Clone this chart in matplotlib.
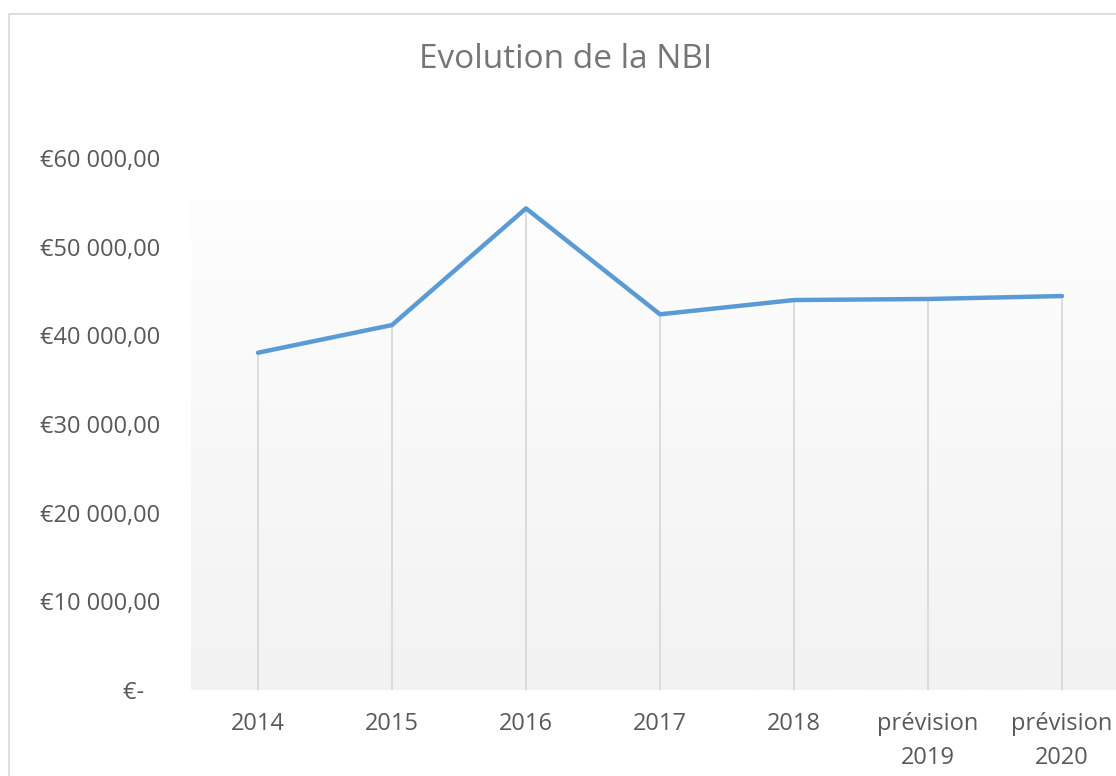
import matplotlib
matplotlib.use('Agg')
import matplotlib.pyplot as plt
import numpy as np
from matplotlib.patches import Rectangle

# data
categories = ['2014', '2015', '2016', '2017', '2018', 'prévision\n2019', 'prévision\n2020']
nbi_values = [38040, 41160, 54320, 42370, 43980, 44100, 44430]
y_ticks = [0, 10000, 20000, 30000, 40000, 50000, 60000]
y_tick_labels = ['€-  \u2009', '€10 000,00', '€20 000,00', '€30 000,00',
                 '€40 000,00', '€50 000,00', '€60 000,00']

plt.rcParams['font.family'] = ['Open Sans', 'DejaVu Sans']

fig = plt.figure(figsize=(11.16, 7.76), dpi=100)
fig.patch.set_facecolor('white')

# chart border (cropped on the right and bottom)
fig.patches.append(Rectangle((9 / 1116, -0.1), 1.2, 1 - 14 / 776 + 0.1,
                             transform=fig.transFigure, fill=False,
                             edgecolor='#d9d9d9', lw=1.2))

ax = fig.add_axes([191 / 1116, 86 / 776, 938 / 1116, 532 / 776])
x = np.arange(len(categories))
ax.set_xlim(-0.5, len(categories) - 0.5)
ax.set_ylim(0, 60000)

# plot area gradient, white at top to light gray at bottom
grad = np.linspace(242, 255, 256).reshape(-1, 1) / 255.0
ax.imshow(np.dstack([grad, grad, grad]), extent=(-0.5, len(categories) - 0.5, 0, 60000),
          origin='lower', aspect='auto', zorder=0)

# drop lines
ax.vlines(x, 0, nbi_values, colors='#d9d9d9', lw=1.3, zorder=1)
ax.plot(x, nbi_values, color='#5b9bd5', lw=3.2, solid_capstyle='round',
        solid_joinstyle='round', zorder=3)

for s in ax.spines.values():
    s.set_visible(False)

ax.set_xticks(x)
ax.set_xticklabels(categories, fontsize=17, color='#595959', linespacing=1.55)
ax.set_yticks(y_ticks)
ax.set_yticklabels(y_tick_labels, fontsize=17, color='#595959')
ax.tick_params(axis='both', length=0)
ax.tick_params(axis='y', pad=22)
ax.tick_params(axis='x', pad=16)

fig.text(566 / 1116, 1 - 60 / 776, 'Evolution de la NBI', ha='center', va='center',
         fontsize=24, color='#757575')

fig.savefig('out.png', dpi=100)
